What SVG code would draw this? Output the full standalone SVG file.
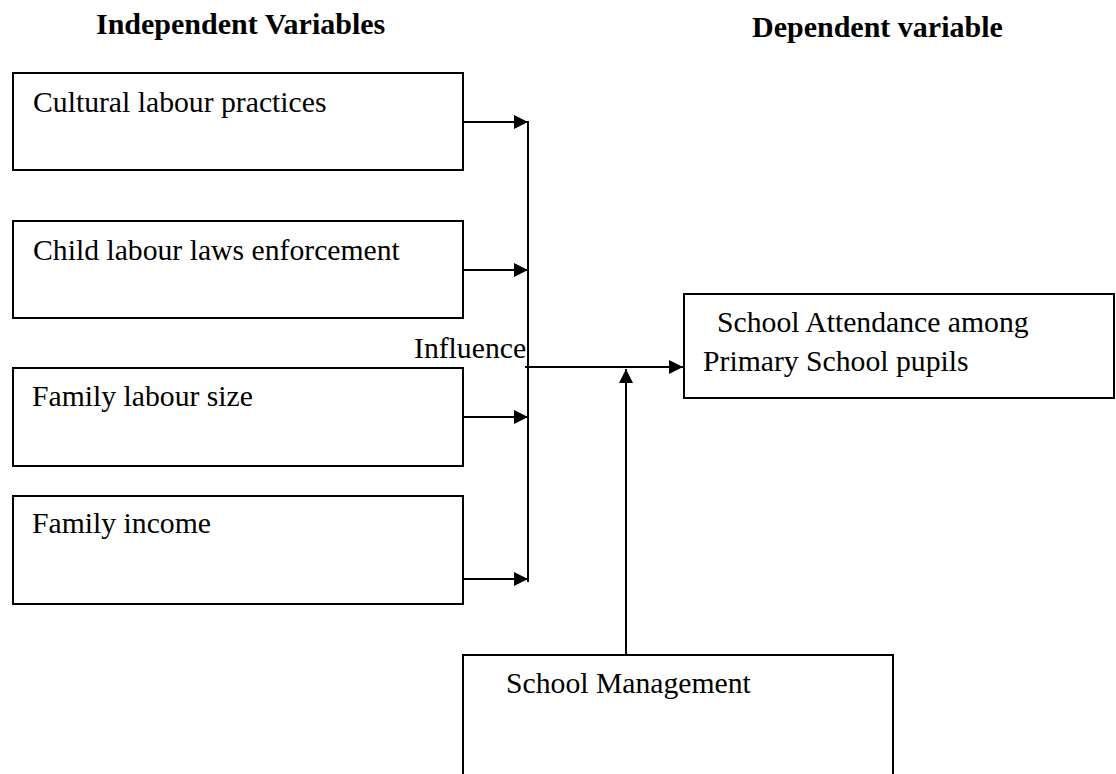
<svg xmlns="http://www.w3.org/2000/svg" width="1116" height="774" viewBox="0 0 1116 774">
<style>
.box{fill:#fff;stroke:#000;stroke-width:2}
.t{font-family:"Liberation Serif","Times New Roman",serif;font-size:29.7px;fill:#000}
.h{font-family:"Liberation Serif","Times New Roman",serif;font-size:30px;font-weight:bold;fill:#000}
.c{fill:none;stroke:#000;stroke-width:2}
</style>
<defs>
<marker id="arr" markerUnits="userSpaceOnUse" markerWidth="15" markerHeight="15" refX="14" refY="7" orient="auto">
<path d="M0,0 L14,7 L0,14 z" fill="#000"/>
</marker>
</defs>
<rect width="1116" height="774" fill="#fff"/>
<g id="titles">
<text class="h" x="96" y="33.5">Independent Variables</text>
<text class="h" x="752" y="36.5">Dependent variable</text>
</g>
<g id="n1"><rect class="box" x="13" y="73" width="450" height="97"/><text class="t" x="33" y="111.5">Cultural labour practices</text></g>
<g id="n2"><rect class="box" x="13" y="221" width="450" height="97"/><text class="t" x="33" y="260">Child labour laws enforcement</text></g>
<g id="n3"><rect class="box" x="13" y="368" width="450" height="98"/><text class="t" x="32" y="406">Family labour size</text></g>
<g id="n4"><rect class="box" x="13" y="496" width="450" height="108"/><text class="t" x="32" y="533">Family income</text></g>
<g id="n5"><rect class="box" x="684" y="294" width="430" height="104"/><text class="t" x="717" y="332">School Attendance among</text><text class="t" x="703" y="371">Primary School pupils</text></g>
<g id="n6"><rect class="box" x="463" y="655" width="430" height="130"/><text class="t" x="506" y="693">School Management</text></g>
<g id="connectors">
<line class="c" x1="463" y1="122" x2="528" y2="122" marker-end="url(#arr)"/>
<line class="c" x1="463" y1="270" x2="528" y2="270" marker-end="url(#arr)"/>
<line class="c" x1="463" y1="417" x2="528" y2="417" marker-end="url(#arr)"/>
<line class="c" x1="463" y1="579" x2="528" y2="579" marker-end="url(#arr)"/>
<line class="c" x1="528" y1="121" x2="528" y2="582"/>
<line class="c" x1="525" y1="367" x2="683" y2="367" marker-end="url(#arr)"/>
<line class="c" x1="626" y1="655" x2="626" y2="369" marker-end="url(#arr)"/>
<text class="t" x="414" y="358">Influence</text>
</g>
</svg>
